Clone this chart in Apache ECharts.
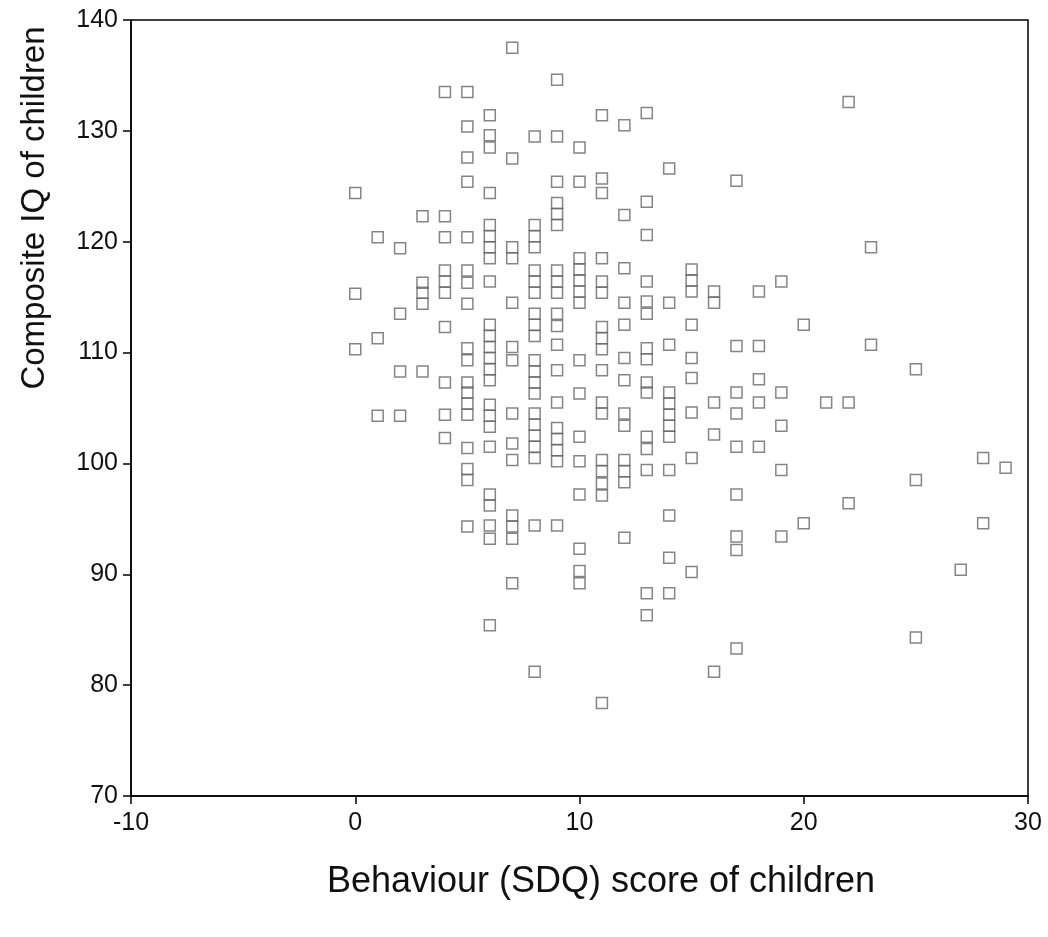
<!DOCTYPE html>
<html>
<head>
  <meta charset="UTF-8">
  <title>IQ vs SDQ scatter</title>
  <script src="https://cdn.jsdelivr.net/npm/echarts@6/dist/echarts.min.js"></script>
  <style>
    html, body { margin: 0; padding: 0; background: #fff; }
    #chart { width: 1048px; height: 937px; }
  </style>
</head>
<body>
  <div id="chart"></div>
  <script>
    // SDQ behaviour score (x) and the IQ values plotted at each score (y)
    const sdqScores = [0, 1, 2, 3, 4, 5, 6, 7, 8, 9, 10, 11, 12, 13, 14, 15, 16, 17, 18, 19, 20, 21, 22, 23, 25, 27, 28, 29];
    const iqByScore = [
      [124.4, 115.3, 110.3],
      [120.4, 111.3, 104.3],
      [119.4, 113.5, 108.3, 104.3],
      [122.3, 116.3, 115.4, 114.4, 108.3],
      [133.5, 122.3, 120.4, 117.4, 116.4, 115.4, 112.3, 107.3, 104.4, 102.3],
      [133.5, 130.4, 127.6, 125.4, 120.4, 117.4, 116.3, 114.4, 110.4, 109.3, 107.3, 106.4, 105.4, 104.4, 101.4, 99.5, 98.5, 94.3],
      [131.4, 129.6, 128.5, 124.4, 121.5, 120.5, 119.5, 118.5, 116.4, 112.5, 111.5, 110.5, 109.5, 108.5, 107.5, 105.3, 104.3, 103.3, 101.5, 97.2, 96.2, 94.4, 93.2, 85.4],
      [137.5, 127.5, 119.5, 118.5, 114.5, 110.5, 109.3, 104.5, 101.8, 100.3, 95.3, 94.3, 93.2, 89.2],
      [129.5, 121.5, 120.5, 119.5, 117.4, 116.4, 115.4, 113.5, 112.5, 111.5, 109.3, 108.3, 107.3, 106.3, 104.5, 103.5, 102.5, 101.5, 100.5, 94.4, 81.2],
      [134.6, 129.5, 125.4, 123.5, 122.5, 121.5, 117.4, 116.4, 115.4, 113.5, 112.4, 110.7, 108.4, 105.5, 103.2, 102.2, 101.2, 100.2, 94.4],
      [128.5, 125.4, 118.5, 117.5, 116.5, 115.5, 114.5, 109.3, 106.3, 102.4, 100.2, 97.2, 92.3, 90.3, 89.2],
      [131.4, 125.7, 124.4, 118.5, 116.4, 115.4, 112.3, 111.3, 110.3, 108.4, 105.5, 104.5, 100.3, 99.3, 98.2, 97.1, 78.4],
      [130.5, 122.4, 117.6, 114.5, 112.5, 109.5, 107.5, 104.5, 103.4, 100.3, 99.3, 98.3, 93.3],
      [131.6, 123.6, 120.6, 116.4, 114.6, 113.5, 110.4, 109.4, 107.3, 106.4, 102.4, 101.3, 99.4, 88.3, 86.3],
      [126.6, 114.5, 110.7, 106.4, 105.4, 104.4, 103.4, 102.4, 99.4, 95.3, 91.5, 88.3],
      [117.5, 116.5, 115.5, 112.5, 109.5, 107.7, 104.6, 100.5, 90.2],
      [115.5, 114.5, 105.5, 102.6, 81.2],
      [125.5, 110.6, 106.4, 104.5, 101.5, 97.2, 93.4, 92.2, 83.3],
      [115.5, 110.6, 107.6, 105.5, 101.5],
      [116.4, 106.4, 103.4, 99.4, 93.4],
      [112.5, 94.6],
      [105.5],
      [132.6, 105.5, 96.4],
      [119.5, 110.7],
      [108.5, 98.5, 84.3],
      [90.4],
      [100.5, 94.6],
      [99.6]
    ];
    const xTitle = 'Behaviour (SDQ) score of children';
    const yTitle = 'Composite IQ of children';

    // flatten into [x, y] pairs for the scatter series
    const points = [];
    sdqScores.forEach(function (s, i) {
      iqByScore[i].forEach(function (v) { points.push([s, v]); });
    });

    const chart = echarts.init(document.getElementById('chart'));
    const font = 'Liberation Sans, Arial, sans-serif';

    const option = {
      animation: false,
      backgroundColor: '#fff',
      grid: {
        left: 131, right: 20, top: 20, bottom: 141,
        show: true, borderColor: '#000', borderWidth: 1.5
      },
      xAxis: {
        type: 'value', min: -10, max: 30, interval: 10,
        axisLine: { show: true, onZero: false, lineStyle: { color: '#000', width: 1.5 } },
        axisTick: { show: true, inside: false, length: 8, lineStyle: { color: '#000', width: 1.5 } },
        axisLabel: { color: '#111', fontSize: 25, fontFamily: font, margin: 15 },
        splitLine: { show: false }
      },
      yAxis: {
        type: 'value', min: 70, max: 140, interval: 10,
        axisLine: { show: true, onZero: false, lineStyle: { color: '#000', width: 1.5 } },
        axisTick: { show: true, inside: false, length: 8, lineStyle: { color: '#000', width: 1.5 } },
        axisLabel: { color: '#111', fontSize: 25, fontFamily: font, margin: 13 },
        splitLine: { show: false }
      },
      graphic: [
        {
          type: 'text', x: 601, y: 882,
          style: { text: xTitle, fontSize: 36, fontFamily: font, fill: '#111', align: 'center', verticalAlign: 'middle' }
        },
        {
          type: 'text', x: 35, y: 208, rotation: Math.PI / 2,
          style: { text: yTitle, fontSize: 33, fontFamily: font, fill: '#111', align: 'center', verticalAlign: 'middle' }
        }
      ],
      series: [{
        type: 'scatter',
        data: points,
        symbol: 'rect',
        symbolSize: 11,
        itemStyle: { color: 'rgba(0,0,0,0)', borderColor: '#666', borderWidth: 1.5 }
      }]
    };
    chart.setOption(option);
  </script>
</body>
</html>
